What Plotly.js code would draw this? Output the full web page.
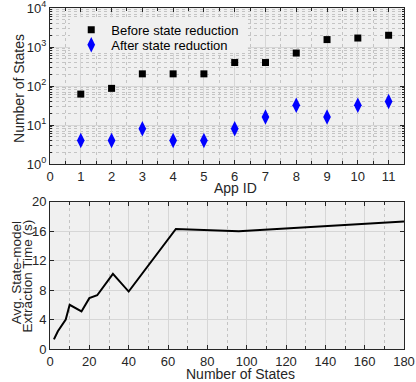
<!DOCTYPE html>
<html>
<head>
<meta charset="utf-8">
<script src="https://cdn.plot.ly/plotly-3.0.1.min.js"></script>
<style>
  html, body { margin: 0; padding: 0; background: #ffffff; }
  #chart { width: 416px; height: 382px; }
</style>
</head>
<body>
<div id="chart"></div>
<script>
  // top panel: states per app
  const APP_IDS = [1, 2, 3, 4, 5, 6, 7, 8, 9, 10, 11];
  const STATES_BEFORE = [62, 87, 205, 205, 205, 400, 400, 700, 1550, 1700, 2000];
  const STATES_AFTER = [4, 4, 8, 4, 4, 8, 16, 32, 16, 32, 40];
  const LOG_TICK_VALS = [1, 10, 100, 1000, 10000];
  const LOG_TICK_TEXT = ["10<sup>0</sup>", "10<sup>1</sup>", "10<sup>2</sup>", "10<sup>3</sup>", "10<sup>4</sup>"];

  // bottom panel: extraction time vs number of states
  const NUM_STATES = [2, 4, 8, 10, 16, 20, 24, 32, 40, 64, 96, 180];
  const EXTRACTION_TIME = [1.3, 2.4, 4.0, 6.0, 5.1, 6.9, 7.3, 10.2, 7.8, 16.3, 16.0, 17.3];

  const INK = "#262626";
  const BG = "#f0f0f0";
  const GRID = "#d6d6d6";
  const MINOR_GRID = "#c4c4c4";
  const FONT = "Liberation Sans, Arial, Helvetica, sans-serif";

  // minor log ticks 2..9 in each decade
  const logMinor = [];
  for (let d = 1; d <= 1000; d *= 10) {
    for (let k = 2; k <= 9; k++) logMinor.push(k * d);
  }

  function axisBase() {
    return {
      showline: true,
      linecolor: INK,
      linewidth: 1,
      mirror: "ticks",
      ticks: "inside",
      ticklen: 4,
      tickcolor: INK,
      tickfont: { family: FONT, size: 13, color: INK },
      ticklabeloverflow: "allow",
      showgrid: true,
      gridcolor: GRID,
      gridwidth: 1,
      zeroline: false
    };
  }

  function label(text, x, y, angle, size) {
    return {
      text: text,
      xref: "paper",
      yref: "paper",
      x: x,
      y: y,
      xanchor: "center",
      yanchor: "middle",
      textangle: angle || 0,
      showarrow: false,
      font: { family: FONT, size: size || 14, color: INK }
    };
  }

  // one legend per entry so the rows sit as close as in the original
  function legendBox(y) {
    return {
      x: 0.06,
      y: y,
      xanchor: "left",
      yanchor: "top",
      bgcolor: "rgba(0,0,0,0)",
      borderwidth: 0,
      font: { family: FONT, size: 13, color: "#000000" }
    };
  }

  const traces = [
    {
      type: "scatter",
      mode: "markers",
      name: "Before state reduction",
      legend: "legend",
      x: APP_IDS,
      y: STATES_BEFORE,
      xaxis: "x",
      yaxis: "y",
      marker: { symbol: "square", size: 7, color: "#000000" }
    },
    {
      type: "scatter",
      mode: "markers",
      name: "After state reduction",
      legend: "legend2",
      x: APP_IDS,
      y: STATES_AFTER,
      xaxis: "x",
      yaxis: "y",
      marker: { symbol: "diamond-tall", size: 11, color: "#0000ff" }
    },
    {
      type: "scatter",
      mode: "lines",
      showlegend: false,
      x: NUM_STATES,
      y: EXTRACTION_TIME,
      xaxis: "x2",
      yaxis: "y2",
      line: { color: "#000000", width: 2 }
    }
  ];

  const layout = {
    width: 416,
    height: 382,
    margin: { l: 50, r: 12, t: 8, b: 33 },
    paper_bgcolor: "#ffffff",
    plot_bgcolor: BG,
    font: { family: FONT, color: INK },
    showlegend: true,
    legend: legendBox(0.980),
    legend2: legendBox(0.936),
    shapes: [
      // legend background, hides the grid behind the entries
      {
        type: "rect",
        xref: "paper",
        yref: "paper",
        x0: 0.0565, x1: 0.559,
        y0: 0.868, y1: 0.9727,
        layer: "above",
        fillcolor: BG,
        line: { width: 0 }
      }
    ],
    annotations: [
      label("Number of States", -0.088, 0.765, -90),
      label("App ID", 0.5226, 0.471),
      label("Avg. State-model", -0.096, 0.222, -90, 13.5),
      label("Extraction Time (s)", -0.063, 0.215, -90, 13.5),
      label("Number of States", 0.537, -0.073)
    ],
    xaxis: Object.assign(axisBase(), {
      domain: [0, 1],
      anchor: "y",
      range: [0, 11.5],
      tickmode: "linear",
      tick0: 0,
      dtick: 1,
      minor: { dtick: 0.5, ticks: "inside", ticklen: 3, tickcolor: INK, showgrid: true, gridcolor: MINOR_GRID, griddash: "dot" }
    }),
    yaxis: Object.assign(axisBase(), {
      domain: [0.5425, 1],
      anchor: "x",
      type: "log",
      range: [-0.0005, 4.0005],
      tickmode: "array",
      tickvals: LOG_TICK_VALS,
      ticktext: LOG_TICK_TEXT,
      minor: { tickmode: "array", tickvals: logMinor, ticks: "inside", ticklen: 2, tickcolor: INK, showgrid: true, gridcolor: MINOR_GRID, griddash: "dot" }
    }),
    xaxis2: Object.assign(axisBase(), {
      domain: [0, 1],
      anchor: "y2",
      range: [0, 180],
      tickmode: "linear",
      tick0: 0,
      dtick: 20,
      minor: { dtick: 10, ticks: "inside", ticklen: 3, tickcolor: INK, showgrid: true, gridcolor: MINOR_GRID, griddash: "dot" }
    }),
    yaxis2: Object.assign(axisBase(), {
      domain: [0, 0.432],
      anchor: "x2",
      range: [0, 20],
      tickmode: "linear",
      tick0: 0,
      dtick: 4
    })
  };

  Plotly.newPlot("chart", traces, layout, { displayModeBar: false, staticPlot: true });
</script>
</body>
</html>
